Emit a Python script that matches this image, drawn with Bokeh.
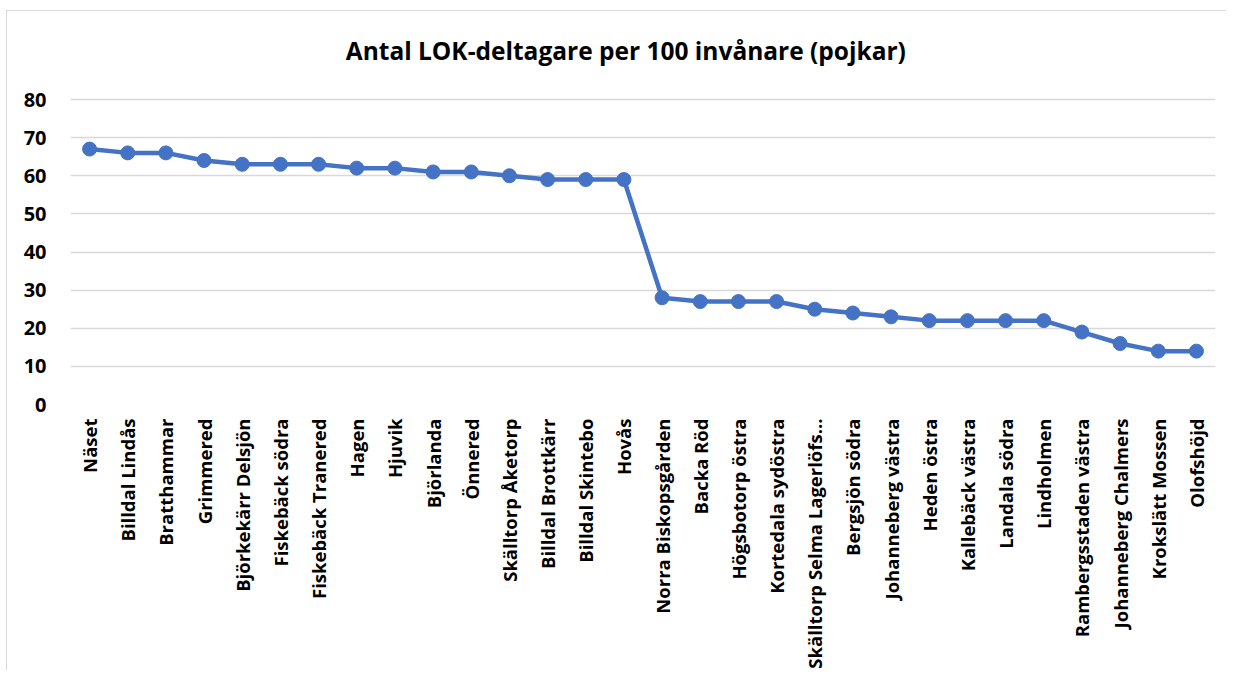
import math
from bokeh.plotting import figure
from bokeh.models import FixedTicker
from bokeh.core.properties import value
from bokeh.embed import file_html
from bokeh.resources import INLINE

categories = ["Näset", "Billdal Lindås", "Bratthammar", "Grimmered", "Björkekärr Delsjön",
              "Fiskebäck södra", "Fiskebäck Tranered", "Hagen", "Hjuvik", "Björlanda",
              "Önnered", "Skälltorp Åketorp", "Billdal Brottkärr", "Billdal Skintebo", "Hovås",
              "Norra Biskopsgården", "Backa Röd", "Högsbotorp östra", "Kortedala sydöstra",
              "Skälltorp Selma Lagerlöfs...", "Bergsjön södra", "Johanneberg västra", "Heden östra",
              "Kallebäck västra", "Landala södra", "Lindholmen", "Rambergsstaden västra",
              "Johanneberg Chalmers", "Krokslätt Mossen", "Olofshöjd"]
values = [67, 66, 66, 64, 63, 63, 63, 62, 62, 61, 61, 60, 59, 59, 59,
          28, 27, 27, 27, 25, 24, 23, 22, 22, 22, 22, 19, 16, 14, 14]
y_ticks = [0, 10, 20, 30, 40, 50, 60, 70, 80]
title_text = "Antal LOK-deltagare per 100 invånare (pojkar)"

FONT = "Open Sans"

# y range extends above the top gridline to leave room for the title inside the frame
p = figure(x_range=categories, y_range=(0, 98.1), width=1220, height=660,
           output_backend="svg", toolbar_location=None,
           min_border_left=63, min_border_right=12, min_border_top=19, min_border_bottom=267)
p.title.visible = False

p.outline_line_color = None
p.background_fill_color = "white"
p.border_fill_color = "white"

p.xgrid.grid_line_color = None
p.ygrid.grid_line_color = "#d9d9d9"
p.ygrid.grid_line_width = 1.5
p.yaxis.ticker = FixedTicker(ticks=y_ticks)

for ax in (p.xaxis, p.yaxis):
    ax.axis_line_color = None
    ax.major_tick_line_color = None
    ax.minor_tick_line_color = None
    ax.major_label_text_font = FONT
    ax.major_label_text_font_style = "bold"
    ax.major_label_text_color = "#000000"

p.yaxis.major_label_text_font_size = "20px"
p.yaxis.major_label_standoff = 18
p.xaxis.major_label_text_font_size = "18.5px"
p.xaxis.major_label_orientation = math.pi / 2
p.xaxis.major_label_standoff = 8

p.line(categories, values, line_color="#4472C4", line_width=4.5)
p.scatter(categories, values, size=14, fill_color="#4472C4", line_color="#4472C4")

p.text(x=[len(categories) / 2 - 0.45], y=[92.9], text=[title_text],
       text_align="center", text_baseline="middle",
       text_font=value(FONT), text_font_size="24.5px", text_font_style="bold",
       text_color="#000000")

p.styles = {"margin-left": "6px", "margin-top": "10px",
            "border-left": "1px solid #d9d9d9", "border-top": "1px solid #d9d9d9"}

open("out.html", "w").write(file_html(p, INLINE))
